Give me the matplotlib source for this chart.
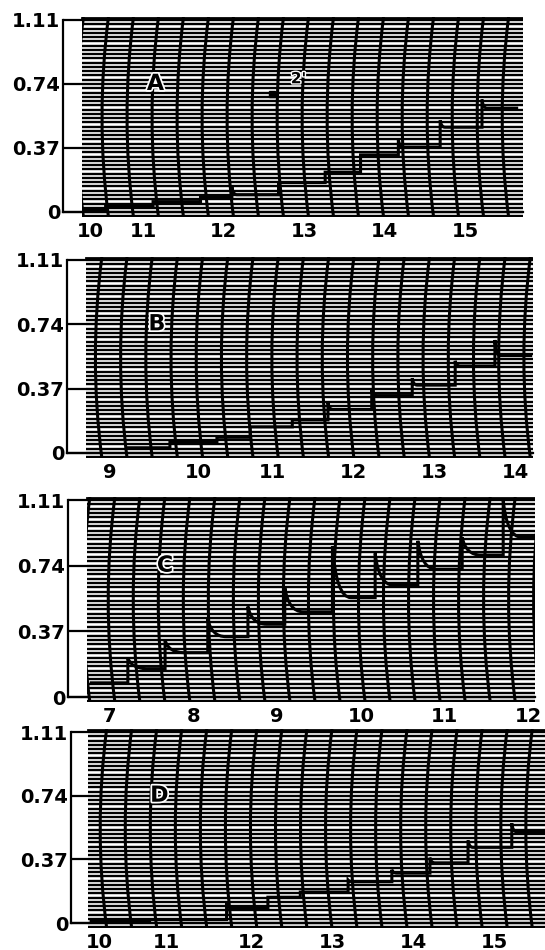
import matplotlib
matplotlib.use("Agg")
import matplotlib.pyplot as plt
import matplotlib.patheffects as pe
import numpy as np
from matplotlib.path import Path
from matplotlib.patches import PathPatch, Rectangle

# recorder y scale, shared by all four strips
y_ticks = [0, 0.37, 0.74, 1.11]
y_labels = ["0", "0.37", "0.74", "1.11"]

# strip A
a_xticks = [10.34, 11, 12, 13, 14, 15]
a_xlabels = ["10", "11", "12", "13", "14", "15"]
a_start, a_end, a_base = 10.25, 15.66, 0.01
a_jump = [10.53, 11.12, 11.71, 12.10, 12.68, 13.26, 13.70, 14.17, 14.69, 15.21]
a_peak = [0.035, 0.06, 0.085, 0.145, 0.17, 0.23, 0.33, 0.42, 0.53, 0.65]
a_level = [0.035, 0.06, 0.085, 0.10, 0.17, 0.23, 0.33, 0.375, 0.49, 0.60]

# strip B
b_xticks = [9, 10.09, 11, 12, 13, 14]
b_xlabels = ["9", "10", "11", "12", "13", "14"]
b_start, b_end, b_base = 9.21, 14.21, 0.03
b_jump = [9.74, 10.32, 10.73, 11.25, 11.69, 12.23, 12.73, 13.26, 13.75]
b_peak = [0.06, 0.09, 0.15, 0.19, 0.29, 0.37, 0.43, 0.53, 0.65]
b_level = [0.06, 0.09, 0.15, 0.19, 0.25, 0.33, 0.39, 0.50, 0.56]

# strip C
c_xticks = [7, 8, 9, 10, 11, 12]
c_xlabels = ["7", "8", "9", "10", "11", "12"]
c_start, c_end, c_base = 6.76, 12.08, 0.08
c_jump = [7.215, 7.66, 8.17, 8.65, 9.09, 9.66, 10.17, 10.68, 11.21, 11.70]
c_peak = [0.22, 0.32, 0.44, 0.51, 0.62, 0.85, 0.81, 0.88, 0.90, 1.11]
c_level = [0.16, 0.25, 0.34, 0.41, 0.48, 0.56, 0.63, 0.72, 0.80, 0.90]

# strip D
d_xticks = [10.12, 10.95, 12, 13, 14, 15]
d_xlabels = ["10", "11", "12", "13", "14", "15"]
d_start, d_end, d_base = 10.0, 15.62, 0.01
d_jump = [10.74, 11.69, 12.2, 12.6, 13.19, 13.73, 14.2, 14.67, 15.21]
d_peak = [0.02, 0.12, 0.15, 0.18, 0.25, 0.31, 0.38, 0.48, 0.58]
d_level = [0.02, 0.09, 0.15, 0.18, 0.24, 0.29, 0.35, 0.44, 0.53]

W, H = 545, 950


def trace_path(start, end, base, jumps, peaks, levels, w):
    verts = [(start, base)]
    codes = [Path.MOVETO]
    cur = base
    for t, p, lv in zip(jumps, peaks, levels):
        verts += [(t, cur), (t, p)]
        codes += [Path.LINETO, Path.LINETO]
        if p > lv:
            # pen drops back after the jump
            verts += [(t + 0.2 * w, lv), (t + w, lv)]
            codes += [Path.CURVE3, Path.CURVE3]
        cur = lv
    verts.append((end, cur))
    codes.append(Path.LINETO)
    return Path(verts, codes)


def strip(box, xlim, ylim, paper_x0, arc0, arc_step, tick_len):
    x0, y0, x1, y1 = box
    ax = fig.add_axes([x0 / W, 1 - y1 / H, (x1 - x0) / W, (y1 - y0) / H])
    ax.set_xlim(*xlim)
    ax.set_ylim(*ylim)
    clip = Rectangle((paper_x0, ylim[0]), xlim[1] - paper_x0, ylim[1] - ylim[0],
                     transform=ax.transData, facecolor="none", edgecolor="none")
    ax.add_patch(clip)

    # chart paper: horizontal rulings
    for yy in np.arange(ylim[0] + 0.004, ylim[1], 1.11 / 45):
        ln, = ax.plot([paper_x0, xlim[1]], [yy, yy], color="k", lw=1.7,
                      solid_capstyle="butt", zorder=1)
        ln.set_clip_path(clip)
    # chart paper: curved time lines
    bulge = 0.08
    ymid = (ylim[0] + ylim[1]) / 2
    for xt in np.arange(arc0 - 2 * arc_step, xlim[1] + arc_step, arc_step):
        p = Path([(xt, ylim[1]), (xt - 2 * bulge, ymid), (xt, ylim[0])],
                 [Path.MOVETO, Path.CURVE3, Path.CURVE3])
        arc = PathPatch(p, facecolor="none", edgecolor="k", lw=2.2, zorder=1.2)
        ax.add_patch(arc)
        arc.set_clip_path(clip)
    ax.plot([paper_x0, xlim[1]], [ylim[1] - 0.004] * 2, color="k", lw=2.0, zorder=1.3)

    for s in ["top", "right"]:
        ax.spines[s].set_visible(False)
    ax.spines["left"].set_bounds(0, 1.11)
    ax.spines["left"].set_linewidth(1.6)
    ax.spines["bottom"].set_position(("data", 0))
    ax.spines["bottom"].set_linewidth(1.6)
    ax.spines["bottom"].set_zorder(3)
    ax.set_yticks(y_ticks, y_labels)
    ax.tick_params(axis="y", direction="in", length=tick_len, width=1.6, pad=2,
                   labelsize=14)
    ax.tick_params(axis="x", length=0, pad=7, labelsize=14)
    ax.patch.set_visible(False)
    return ax


def add_trace(ax, start, end, base, jumps, peaks, levels, w):
    ax.add_patch(PathPatch(trace_path(start, end, base, jumps, peaks, levels, w),
                           facecolor="none", edgecolor="k", lw=2.2, zorder=4,
                           joinstyle="miter", capstyle="butt"))


def letter(ax, x, s, size=16):
    ax.text(x, 0.74, s, ha="center", va="center", fontsize=size, fontweight="bold",
            zorder=5, path_effects=[pe.withStroke(linewidth=2.5, foreground="white")])


fig = plt.figure(figsize=(W / 100, H / 100), dpi=100)

ax = strip((63, 17, 523, 217), (10.0, 15.72), (-0.029, 1.127), 10.24, 10.565, 0.311, 13.7)
ax.set_xticks(a_xticks, a_xlabels)
add_trace(ax, a_start, a_end, a_base, a_jump, a_peak, a_level, 0.06)
letter(ax, 11.15, "A")
ax.text(12.93, 0.77, "2'", ha="center", va="center", fontsize=11, fontweight="bold",
        zorder=5, path_effects=[pe.withStroke(linewidth=2, foreground="white")])
ax.plot([12.6], [0.68], "s", color="k", ms=4, zorder=5)

ax = strip((67, 257, 533, 458), (8.47, 14.22), (-0.029, 1.127), 8.70, 8.90, 0.311, 13.7)
ax.set_xticks(b_xticks, b_xlabels)
add_trace(ax, b_start, b_end, b_base, b_jump, b_peak, b_level, 0.06)
letter(ax, 9.58, "B")

ax = strip((68, 497, 535, 702), (6.50, 12.08), (-0.028, 1.127), 6.725, 7.06, 0.299, 13.7)
ax.set_xticks(c_xticks, c_xlabels)
add_trace(ax, c_start, c_end, c_base, c_jump, c_peak, c_level, 0.22)
letter(ax, 7.66, "C")

ax = strip((71, 729, 545, 928), (9.77, 15.62), (-0.029, 1.128), 9.98, 10.21, 0.309, 12.2)
ax.set_xticks(d_xticks, d_xlabels)
add_trace(ax, d_start, d_end, d_base, d_jump, d_peak, d_level, 0.06)
letter(ax, 10.86, "D")

for a in fig.axes:
    for lab in a.get_xticklabels() + a.get_yticklabels():
        lab.set_fontweight("bold")

fig.savefig("out.png", dpi=100)
